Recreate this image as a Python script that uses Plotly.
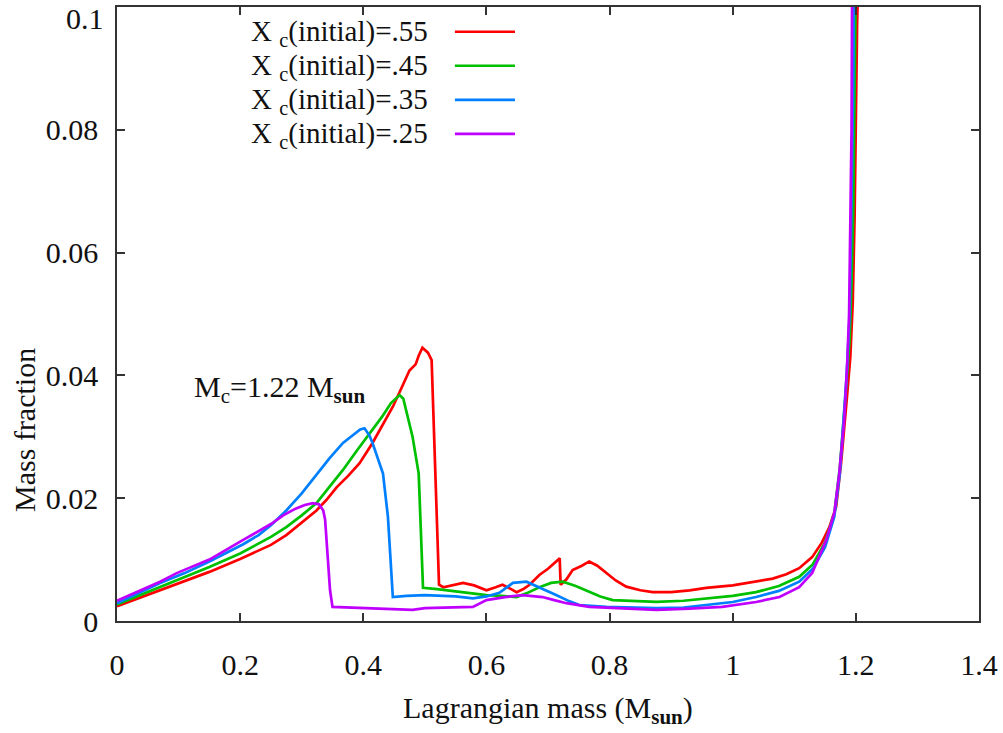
import plotly.graph_objects as go

# Lagrangian mass coordinate (M_sun) and mass fraction for each initial central X_c
mass_55 = [0.0, 0.035, 0.07, 0.11, 0.15, 0.2, 0.25, 0.275, 0.3, 0.324, 0.34, 0.357, 0.375,
           0.394, 0.415, 0.43, 0.448, 0.46, 0.475, 0.485, 0.49, 0.496, 0.505, 0.511, 0.514,
           0.517, 0.52, 0.523, 0.53, 0.545, 0.562, 0.58, 0.6, 0.615, 0.626, 0.64, 0.649,
           0.66, 0.67, 0.686, 0.70, 0.719, 0.7205, 0.73, 0.74, 0.755, 0.767, 0.78, 0.795,
           0.81, 0.827, 0.85, 0.87, 0.9, 0.93, 0.957, 1.0, 1.038, 1.065, 1.087, 1.108,
           1.129, 1.145, 1.157, 1.168, 1.176, 1.181, 1.186, 1.191, 1.195, 1.198, 1.2,
           1.202, 1.204]
frac_55 = [0.0024, 0.0037, 0.0050, 0.0065, 0.0080, 0.0101, 0.0124, 0.0140, 0.0160, 0.0180,
           0.0197, 0.0218, 0.0236, 0.0257, 0.0290, 0.0316, 0.0349, 0.0375, 0.0408, 0.0418,
           0.0432, 0.0445, 0.0437, 0.0425, 0.0340, 0.0240, 0.0140, 0.0059, 0.0055, 0.0058,
           0.0062, 0.0058, 0.0050, 0.0055, 0.0059, 0.0052, 0.0047, 0.0052, 0.0059, 0.0075,
           0.0085, 0.0102, 0.0059, 0.0068, 0.0083, 0.0090, 0.0097, 0.0090, 0.0078, 0.0066,
           0.0056, 0.0050, 0.0047, 0.0047, 0.0050, 0.0054, 0.0058, 0.0064, 0.0069, 0.0076,
           0.0086, 0.0104, 0.0128, 0.0153, 0.0186, 0.0257, 0.0320, 0.0370, 0.0430, 0.0520,
           0.0660, 0.0850, 0.0970, 0.1050]

mass_45 = [0.0, 0.035, 0.07, 0.11, 0.15, 0.2, 0.25, 0.275, 0.3, 0.324, 0.35, 0.367, 0.39,
           0.405, 0.415, 0.43, 0.445, 0.459, 0.465, 0.472, 0.48, 0.49, 0.494, 0.497, 0.52,
           0.55, 0.578, 0.6, 0.625, 0.649, 0.665, 0.686, 0.705, 0.724, 0.745, 0.767, 0.785,
           0.805, 0.84, 0.876, 0.92, 0.957, 1.0, 1.038, 1.075, 1.108, 1.13, 1.15, 1.165,
           1.174, 1.18, 1.185, 1.19, 1.193, 1.196, 1.198, 1.2]
frac_45 = [0.0027, 0.0041, 0.0055, 0.0071, 0.0088, 0.0110, 0.0137, 0.0153, 0.0172, 0.0192,
           0.0225, 0.0246, 0.0278, 0.0298, 0.0310, 0.0332, 0.0355, 0.0368, 0.0362, 0.0335,
           0.0300, 0.0240, 0.0148, 0.0054, 0.0052, 0.0048, 0.0045, 0.0042, 0.0041, 0.0039,
           0.0045, 0.0055, 0.0062, 0.0064, 0.0057, 0.0047, 0.0040, 0.0034, 0.0032, 0.0031,
           0.0033, 0.0037, 0.0041, 0.0047, 0.0057, 0.0072, 0.0092, 0.0128, 0.0175, 0.0250,
           0.0320, 0.0390, 0.0460, 0.0550, 0.0680, 0.0850, 0.1050]

mass_35 = [0.0, 0.035, 0.07, 0.11, 0.15, 0.205, 0.23, 0.25, 0.275, 0.3, 0.324, 0.345, 0.367,
           0.385, 0.395, 0.402, 0.41, 0.415, 0.425, 0.432, 0.44, 0.445, 0.448, 0.47, 0.5,
           0.53, 0.55, 0.578, 0.6, 0.621, 0.643, 0.665, 0.686, 0.714, 0.735, 0.751, 0.795,
           0.876, 0.92, 0.957, 1.0, 1.038, 1.075, 1.108, 1.13, 1.15, 1.165, 1.174, 1.18,
           1.185, 1.19, 1.192, 1.194, 1.196, 1.197]
frac_35 = [0.0029, 0.0045, 0.0062, 0.0078, 0.0097, 0.0125, 0.0140, 0.0156, 0.0180, 0.0208,
           0.0238, 0.0265, 0.0290, 0.0305, 0.0312, 0.0314, 0.0302, 0.0290, 0.0260, 0.0240,
           0.0170, 0.0090, 0.0039, 0.0041, 0.0042, 0.0041, 0.0040, 0.0037, 0.0040, 0.0046,
           0.0062, 0.0064, 0.0055, 0.0042, 0.0032, 0.0026, 0.0023, 0.0021, 0.0022, 0.0026,
           0.0031, 0.0039, 0.0049, 0.0064, 0.0085, 0.0120, 0.0170, 0.0240, 0.0320, 0.0400,
           0.0500, 0.0600, 0.0750, 0.0900, 0.1050]

mass_25 = [0.0, 0.035, 0.07, 0.097, 0.15, 0.205, 0.23, 0.25, 0.27, 0.29, 0.305, 0.318, 0.328,
           0.335, 0.338, 0.342, 0.346, 0.35, 0.4, 0.45, 0.48, 0.5, 0.55, 0.578, 0.6, 0.63,
           0.659, 0.691, 0.71, 0.73, 0.767, 0.82, 0.876, 0.93, 0.983, 1.038, 1.076, 1.108,
           1.129, 1.152, 1.165, 1.173, 1.181, 1.186, 1.189, 1.191, 1.193, 1.194]
frac_25 = [0.0033, 0.0048, 0.0064, 0.0078, 0.0100, 0.0132, 0.0146, 0.0158, 0.0172, 0.0183,
           0.0189, 0.0192, 0.0190, 0.0180, 0.0165, 0.0104, 0.0050, 0.0023, 0.0021, 0.0020,
           0.0018, 0.0021, 0.0022, 0.0023, 0.0034, 0.0039, 0.0042, 0.0039, 0.0034, 0.0029,
           0.0023, 0.0020, 0.0018, 0.0020, 0.0023, 0.0031, 0.0039, 0.0055, 0.0078, 0.0132,
           0.0176, 0.0240, 0.0327, 0.0420, 0.0500, 0.0650, 0.0800, 0.1050]

x_ticks = [0, 0.2, 0.4, 0.6, 0.8, 1.0, 1.2, 1.4]
x_tick_text = ["0", "0.2", "0.4", "0.6", "0.8", "1", "1.2", "1.4"]
y_ticks = [0, 0.02, 0.04, 0.06, 0.08, 0.1]
y_tick_text = ["0", "0.02", "0.04", "0.06", "0.08", "0.1"]

series = [
    ("X <sub>c</sub>(initial)=.55", mass_55, frac_55, "#ff0000"),
    ("X <sub>c</sub>(initial)=.45", mass_45, frac_45, "#00c000"),
    ("X <sub>c</sub>(initial)=.35", mass_35, frac_35, "#0080ff"),
    ("X <sub>c</sub>(initial)=.25", mass_25, frac_25, "#c000ff"),
]

FONT = "Liberation Serif"
TXT = "#111111"
FS = 30

fig = go.Figure()
for name, xs, ys, color in series:
    fig.add_trace(go.Scatter(x=xs, y=ys, mode="lines", name=name,
                             line=dict(color=color, width=2.7), showlegend=False))

# Key drawn as right-aligned labels with a short line sample after each
key_rows = [0.9577, 0.9023, 0.8469, 0.7915]
for (name, _, _, color), ky in zip(series, key_rows):
    fig.add_annotation(x=0.363, y=ky, xref="paper", yref="paper", text=name,
                       showarrow=False, xanchor="right", yanchor="middle",
                       font=dict(family=FONT, size=29, color=TXT))
    fig.add_shape(type="line", xref="paper", yref="paper", x0=0.392, x1=0.4617,
                  y0=ky + 0.002, y1=ky + 0.002, line=dict(color=color, width=2.7))

fig.add_annotation(x=0.087, y=0.378, xref="paper", yref="paper",
                   text="M<sub>c</sub>=1.22 M<sub><b>sun</b></sub>", showarrow=False,
                   xanchor="left", yanchor="middle",
                   font=dict(family=FONT, size=FS, color=TXT))

# Axis titles
fig.add_annotation(x=0.5, y=-0.145, xref="paper", yref="paper",
                   text="Lagrangian mass (M<sub><b>sun</b></sub>)", showarrow=False,
                   xanchor="center", yanchor="middle",
                   font=dict(family=FONT, size=FS, color=TXT))
fig.add_annotation(x=-0.108, y=0.311, xref="paper", yref="paper",
                   text="Mass fraction", showarrow=False, textangle=-90,
                   xanchor="center", yanchor="middle",
                   font=dict(family=FONT, size=FS, color=TXT))

# The topmost y label sits at the very edge of the page, so it is placed a few
# pixels lower as its own annotation to keep it fully visible.
y_top_label = y_tick_text[-1]
y_axis_text = y_tick_text[:-1] + [""]
fig.add_annotation(x=0, y=y_ticks[-1], xref="paper", yref="y", text=y_top_label,
                   showarrow=False, xanchor="right", yanchor="top", xshift=-11,
                   yshift=7,
                   font=dict(family=FONT, size=FS, color=TXT))

axis_common = dict(showline=True, linecolor="#333333", linewidth=1.5, mirror="ticks",
                   ticks="inside", ticklen=8, tickwidth=1.5, tickcolor="#333333",
                   showgrid=False, zeroline=False, ticklabeloverflow="allow",
                   automargin=False,
                   tickfont=dict(family=FONT, size=FS, color=TXT))

fig.update_xaxes(range=[0, 1.4], tickvals=x_ticks, ticktext=x_tick_text,
                 ticklabelstandoff=16, **axis_common)
fig.update_yaxes(range=[0, 0.1], tickvals=y_ticks, ticktext=y_axis_text,
                 ticklabelstandoff=11, **axis_common)

fig.update_layout(width=1003, height=733,
                  margin=dict(l=117, r=24, t=7, b=112),
                  paper_bgcolor="white", plot_bgcolor="white",
                  font=dict(family=FONT, color=TXT))

fig.write_html("out.html")
